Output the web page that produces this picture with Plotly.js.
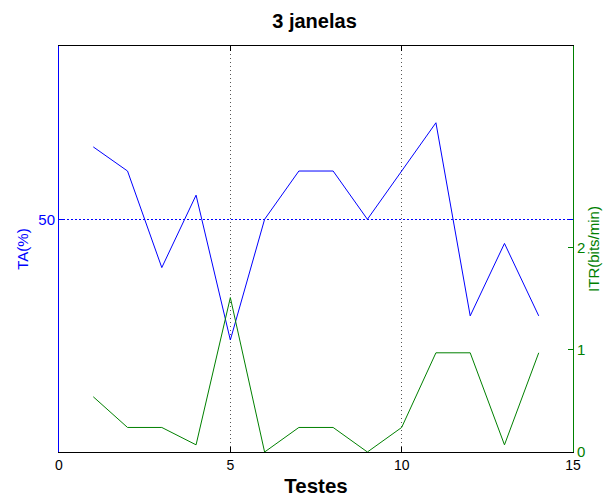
<!DOCTYPE html>
<html>
<head>
<meta charset="utf-8">
<script src="https://cdn.plot.ly/plotly-3.0.1.min.js"></script>
<style>html,body{margin:0;padding:0;background:#fff;}#chart{width:606px;height:498px;}</style>
</head>
<body>
<div id="chart"></div>
<script>
const testes = [1,2,3,4,5,6,7,8,9,10,11,12,13,14];
const ta = [65,60,40,55,25,50,60,60,50,60,70,30,45,30];
const itr = [0.54,0.24,0.24,0.07,1.51,0,0.24,0.24,0,0.24,0.97,0.97,0.07,0.97];
const xTicks = [0,5,10,15];
const taTicks = [50];
const itrTicks = [0,1,2];

const BLUE = '#0000ff', GREEN = '#008000';
const FONT = 'Liberation Sans, Arial, sans-serif';

const traces = [
  {x: testes, y: ta, type: 'scatter', mode: 'lines', line: {color: BLUE, width: 1}, yaxis: 'y', hoverinfo: 'none'},
  {x: testes, y: itr, type: 'scatter', mode: 'lines', line: {color: GREEN, width: 1}, yaxis: 'y2', hoverinfo: 'none'}
];

const layout = {
  width: 606, height: 498,
  margin: {l: 59, r: 33, t: 46, b: 46},
  paper_bgcolor: '#fff', plot_bgcolor: '#fff',
  showlegend: false,
  font: {family: FONT, size: 14, color: '#000'},
  title: {text: '3 janelas', font: {family: FONT, size: 20, weight: 'bold', color: '#000'}, x: 0.519, xanchor: 'center', y: 0.958, yanchor: 'middle'},
  xaxis: {
    range: [0, 15], tickvals: xTicks, ticktext: xTicks.map(String),
    showline: true, linecolor: '#000', linewidth: 1, mirror: 'ticks',
    ticks: 'inside', ticklen: 5, tickcolor: '#000',
    showgrid: true, gridcolor: '#555', griddash: '1px,3px', gridwidth: 1,
    zeroline: false, tickfont: {family: FONT, size: 14, color: '#000'},
    title: {text: 'Testes', font: {family: FONT, size: 20.5, weight: 'bold', color: '#000'}, standoff: 6}
  },
  yaxis: {
    range: [1.8, 85.9], tickvals: taTicks, ticktext: taTicks.map(String),
    color: BLUE,
    showline: true, linecolor: BLUE, linewidth: 1, mirror: 'ticks',
    ticks: 'inside', ticklen: 5, tickcolor: BLUE,
    showgrid: true, gridcolor: BLUE, griddash: '2px,2px', gridwidth: 1,
    zeroline: false, tickfont: {family: FONT, size: 15, color: BLUE},
    title: {text: 'TA(%)', font: {family: FONT, size: 15, color: BLUE}, standoff: 6}
  },
  yaxis2: {
    overlaying: 'y', side: 'right',
    range: [0, 3.97], tickvals: itrTicks, ticktext: itrTicks.map(String),
    color: GREEN,
    showline: true, linecolor: GREEN, linewidth: 1,
    ticks: 'inside', ticklen: 5, tickcolor: GREEN,
    showgrid: false, zeroline: false,
    tickfont: {family: FONT, size: 15, color: GREEN},
    title: {text: 'ITR(bits/min)', font: {family: FONT, size: 15, color: GREEN}, standoff: 4}
  }
};

Plotly.newPlot('chart', traces, layout, {staticPlot: true, displayModeBar: false});
</script>
</body>
</html>
